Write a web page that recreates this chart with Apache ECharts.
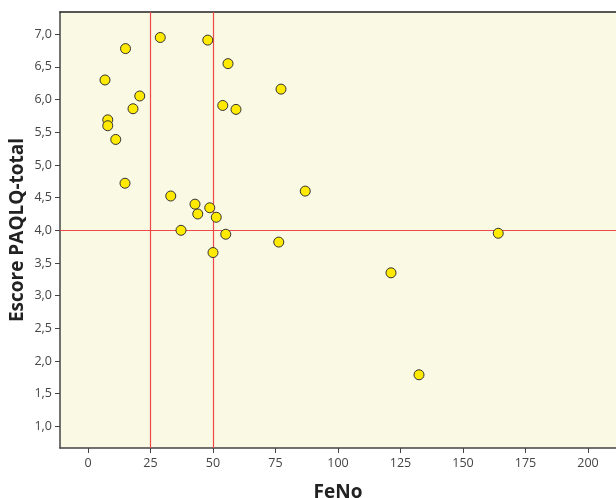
<!DOCTYPE html>
<html><head><meta charset="utf-8">
<script src="https://cdn.jsdelivr.net/npm/echarts@6/dist/echarts.min.js"></script>
<style>html,body{margin:0;padding:0;background:#fff}#c{width:616px;height:498px}</style>
</head><body><div id="c"></div>
<script>
const fenoValues = [15, 28.9, 47.9, 56.0, 6.8, 20.7, 18.0, 7.9, 7.9, 11.1, 14.8, 33.1, 53.9, 59.2, 86.9, 42.8, 48.7, 43.9, 51.3, 37.2, 55.1, 76.3, 50.0, 77.2, 164.1, 121.2, 132.4];
const paqlqValues = [6.78, 6.95, 6.91, 6.55, 6.30, 6.055, 5.86, 5.69, 5.60, 5.39, 4.72, 4.525, 5.91, 5.85, 4.60, 4.40, 4.345, 4.25, 4.20, 4.00, 3.94, 3.82, 3.66, 6.16, 3.955, 3.35, 1.79];
const xTicks = [0, 25, 50, 75, 100, 125, 150, 175, 200];
const yTicks = [1.0, 1.5, 2.0, 2.5, 3.0, 3.5, 4.0, 4.5, 5.0, 5.5, 6.0, 6.5, 7.0];
const refX = [25, 50];
const refY = [4.0];
const xTitle = 'FeNo';
const yTitle = 'Escore PAQLQ-total';

const font = '"Open Sans", "Noto Sans", sans-serif';
const chart = echarts.init(document.getElementById('c'), null, {renderer: 'canvas'});
const data = fenoValues.map((x, i) => [x, paqlqValues[i]]);
const red = '#f04848';
chart.setOption({
  animation: false,
  grid: {left: 60, top: 12, right: 0, bottom: 50, show: true, backgroundColor: '#faf9e3', borderWidth: 0,
    containLabel: false, outerBoundsMode: 'none'},
  xAxis: [{
    type: 'value', min: -11.2, max: 211.2, position: 'bottom',
    name: xTitle, nameLocation: 'middle', nameGap: 35, nameMoveOverlap: false,
    nameTextStyle: {fontFamily: font, fontSize: 19, fontWeight: 'bold', color: '#222'},
    axisLine: {show: true, onZero: false, lineStyle: {color: '#444', width: 1.5}},
    axisTick: {show: true, length: 5, customValues: xTicks, lineStyle: {color: '#444'}},
    axisLabel: {customValues: xTicks, fontFamily: font, fontSize: 12.5, color: '#444', margin: 9},
    splitLine: {show: false}
  }, {
    type: 'value', min: -11.2, max: 211.2, position: 'top',
    axisLine: {show: true, onZero: false, lineStyle: {color: '#222', width: 1.5}},
    axisTick: {show: false}, axisLabel: {show: false}, splitLine: {show: false}
  }],
  yAxis: {
    type: 'value', min: 0.67, max: 7.34,
    name: yTitle, nameLocation: 'middle', nameGap: 33, nameMoveOverlap: false,
    nameTextStyle: {fontFamily: font, fontSize: 19, fontWeight: 'bold', color: '#222'},
    axisLine: {show: true, onZero: false, lineStyle: {color: '#444', width: 1.5}},
    axisTick: {show: true, length: 5, customValues: yTicks, lineStyle: {color: '#444'}},
    axisLabel: {customValues: yTicks, fontFamily: font, fontSize: 12.5, color: '#444', margin: 8,
      formatter: v => v.toFixed(1).replace('.', ',')},
    splitLine: {show: false}
  },
  series: [{
    type: 'scatter', data: data, symbol: 'circle', symbolSize: 10,
    itemStyle: {color: '#ffea00', borderColor: '#333', borderWidth: 1, opacity: 1},
    z: 5,
    markLine: {
      silent: true, symbol: 'none', animation: false,
      label: {show: false},
      lineStyle: {color: red, width: 1.2, type: 'solid'},
      data: refX.map(v => ({xAxis: v})).concat(refY.map(v => ({yAxis: v})))
    }
  }]
});
</script></body></html>
